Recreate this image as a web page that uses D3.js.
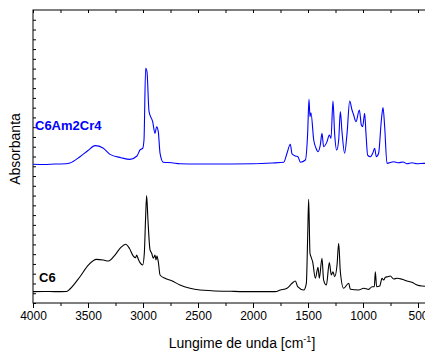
<!DOCTYPE html>
<html>
<head>
<meta charset="utf-8">
<script src="https://cdn.jsdelivr.net/npm/d3@7"></script>
<style>
    body { margin: 0; background: #fff; }
    text { font-family: Arial, "Liberation Sans", sans-serif; }
</style>
</head>
<body>
<div id="chart"></div>
<script>
// C6Am2Cr4 (upper, blue)
let topName = 'C6Am2Cr4';
let topWn = [4000, 3900, 3800, 3700, 3664, 3573, 3500, 3436, 3364, 3300, 3200, 3118, 3055, 3027, 3003, 2991,
    2976, 2964, 2945, 2912, 2891, 2876, 2861, 2845, 2815, 2739, 2664, 2500, 2373, 2200, 2000, 1827,
    1721, 1691, 1661, 1645, 1615, 1591, 1570, 1524, 1503, 1491, 1482, 1473, 1448, 1427, 1409, 1388,
    1373, 1358, 1327, 1306, 1291, 1273, 1258, 1239, 1221, 1206, 1191, 1167, 1145, 1121, 1100, 1085,
    1064, 1033, 1015, 1003, 985, 973, 958, 933, 912, 894, 879, 858, 833, 818, 803, 782,
    721, 676, 636, 600, 555, 509, 448, 400];
let topAbs = [1.420, 1.418, 1.423, 1.425, 1.433, 1.498, 1.561, 1.611, 1.587, 1.522, 1.488, 1.471, 1.505, 1.567, 1.584, 1.669,
    2.403, 2.368, 1.959, 1.856, 1.737, 1.805, 1.754, 1.533, 1.441, 1.436, 1.426, 1.423, 1.423, 1.423, 1.425, 1.433,
    1.441, 1.533, 1.625, 1.526, 1.505, 1.498, 1.441, 1.464, 1.741, 2.086, 1.907, 1.948, 1.669, 1.584, 1.549, 1.618,
    1.737, 1.600, 1.652, 1.720, 1.686, 2.068, 1.737, 1.566, 1.669, 1.959, 1.754, 1.533, 1.737, 2.068, 1.976, 1.925,
    1.856, 1.976, 1.822, 1.805, 1.942, 1.737, 1.515, 1.498, 1.533, 1.584, 1.498, 1.533, 1.874, 2.000, 1.805, 1.430,
    1.447, 1.436, 1.444, 1.426, 1.436, 1.426, 1.430, 1.428];

// C6 (lower, black)
let botName = 'C6';
let botWn = [4000, 3900, 3800, 3694, 3664, 3573, 3497, 3421, 3361, 3315, 3255, 3203, 3158, 3124, 3088, 3067,
    3058, 3042, 3027, 3003, 2988, 2976, 2967, 2955, 2936, 2921, 2906, 2891, 2882, 2873, 2861, 2845,
    2800, 2739, 2664, 2573, 2482, 2376, 2200, 2000, 1797, 1752, 1691, 1645, 1615, 1594, 1539, 1515,
    1503, 1494, 1482, 1473, 1458, 1433, 1409, 1397, 1373, 1358, 1333, 1306, 1288, 1273, 1258, 1236,
    1221, 1206, 1176, 1130, 1115, 1039, 994, 948, 918, 897, 888, 876, 848, 827, 812, 797,
    776, 752, 721, 691, 645, 600, 555, 509, 464, 400];
let botAbs = [0.116, 0.118, 0.116, 0.118, 0.143, 0.269, 0.389, 0.447, 0.440, 0.430, 0.491, 0.566, 0.601, 0.560, 0.481, 0.464,
    0.491, 0.447, 0.413, 0.389, 0.509, 0.884, 1.099, 0.850, 0.543, 0.509, 0.458, 0.491, 0.440, 0.481, 0.423, 0.287,
    0.253, 0.228, 0.184, 0.151, 0.133, 0.126, 0.120, 0.116, 0.116, 0.133, 0.151, 0.202, 0.225, 0.167, 0.133, 0.202,
    0.679, 1.062, 0.509, 0.474, 0.423, 0.253, 0.366, 0.253, 0.458, 0.235, 0.184, 0.413, 0.287, 0.320, 0.269, 0.389,
    0.611, 0.320, 0.151, 0.202, 0.140, 0.133, 0.151, 0.140, 0.167, 0.167, 0.320, 0.167, 0.174, 0.253, 0.235, 0.263,
    0.269, 0.276, 0.246, 0.253, 0.243, 0.225, 0.212, 0.184, 0.174, 0.171];

let xTicks = [4000, 3500, 3000, 2500, 2000, 1500, 1000, 500];

let W = 425, H = 354;
let margin = { top: 10, left: 33 };
let plotW = 396, plotH = 293;

let svg = d3.select('#chart')
    .append('svg')
    .attr('width', W)
    .attr('height', H);

let x = d3.scaleLinear().domain([4000, 400]).range([margin.left, margin.left + plotW]);
let y = d3.scaleLinear().domain([0, 3]).range([margin.top + plotH, margin.top]);

// bottom axis, ticks outside
let minor = d3.range(4000, 399, -250);
svg.append('g')
    .attr('transform', `translate(0, ${margin.top + plotH})`)
    .call(d3.axisBottom(x).tickValues(minor.filter(d => d % 500 != 0)).tickSize(3).tickFormat(''))
    .call(g => g.select('.domain').remove());
let xAxis = svg.append('g')
    .attr('transform', `translate(0, ${margin.top + plotH})`)
    .call(d3.axisBottom(x).tickValues(xTicks).tickSize(5).tickPadding(3).tickFormat(d3.format('d')));
xAxis.select('.domain').remove();
xAxis.selectAll('text').attr('font-size', 12).attr('fill', '#000').style('font-family', 'Arial, "Liberation Sans", sans-serif');

// top axis, ticks inside
svg.append('g')
    .attr('transform', `translate(0, ${margin.top})`)
    .call(d3.axisBottom(x).tickValues(minor).tickSize(3).tickFormat(''))
    .call(g => g.select('.domain').remove());

// left axis, ticks inside, no labels
svg.append('g')
    .attr('transform', `translate(${margin.left}, 0)`)
    .call(d3.axisRight(y).tickValues(d3.range(0, 30).map(d => d / 10)).tickSize(3).tickFormat(''))
    .call(g => g.select('.domain').remove());

// frame
svg.append('rect')
    .attr('x', margin.left)
    .attr('y', margin.top)
    .attr('width', plotW)
    .attr('height', plotH)
    .attr('fill', 'none')
    .attr('stroke', '#000')
    .attr('stroke-width', 1);

let line = d3.line()
    .x(d => x(d[0]))
    .y(d => y(d[1]))
    .curve(d3.curveMonotoneX);

svg.append('path')
    .datum(d3.zip(topWn, topAbs))
    .attr('d', line)
    .attr('fill', 'none')
    .attr('stroke', '#0000ff')
    .attr('stroke-width', 1.1);

svg.append('path')
    .datum(d3.zip(botWn, botAbs))
    .attr('d', line)
    .attr('fill', 'none')
    .attr('stroke', '#000')
    .attr('stroke-width', 1.1);

// series names
svg.append('text')
    .attr('x', 35).attr('y', 129.5)
    .attr('font-size', 13).attr('font-weight', 'bold').attr('fill', '#0000ff')
    .text(topName);
svg.append('text')
    .attr('x', 39).attr('y', 281.7)
    .attr('font-size', 13).attr('font-weight', 'bold').attr('fill', '#000')
    .text(botName);

// axis titles
let xt = svg.append('text')
    .attr('x', 242).attr('y', 348)
    .attr('text-anchor', 'middle')
    .attr('font-size', 14);
xt.append('tspan').text('Lungime de unda [cm');
xt.append('tspan').attr('dy', -6).attr('font-size', 9).text('-1');
xt.append('tspan').attr('dy', 6).text(']');

svg.append('text')
    .attr('transform', 'translate(20, 149) rotate(-90)')
    .attr('text-anchor', 'middle')
    .attr('font-size', 14)
    .text('Absorbanta');
</script>
</body>
</html>
